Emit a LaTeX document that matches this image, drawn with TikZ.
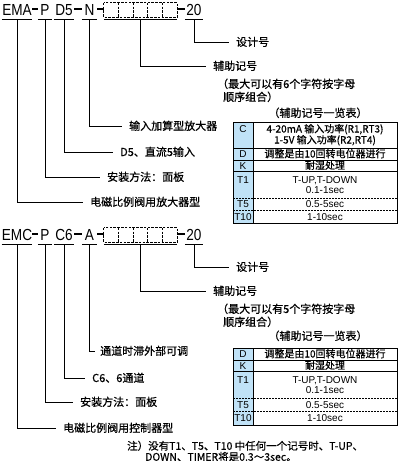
\documentclass[tikz,border=0pt]{standalone}
\usepackage{fontspec}
\setmainfont[FakeBold=0.6]{Noto Sans CJK SC}
\newfontfamily\codefont[FakeStretch=0.85]{Liberation Sans}
\newfontfamily\latinfont{Liberation Sans}
\definecolor{tabblue}{RGB}{192,226,247}

\begin{document}
\begin{tikzpicture}[x=1pt, y=-1pt,
    code/.style={font=\codefont\fontsize{16}{16}\selectfont, inner sep=0pt, text height=12pt, text depth=0pt, minimum height=20pt},
    bar/.style={line width=1.3pt},
    slot/.style={line width=0.8pt, dash pattern=on 2.6pt off 1.2pt},
    leader/.style={line width=0.8pt, shorten >=7pt},
    lbl/.style={anchor=west, inner sep=0pt, font=\fontsize{11}{13}\selectfont, text height=8pt, text depth=0pt},
    cell/.style={inner sep=0pt, font=\fontsize{10}{11}\selectfont, text height=7pt, text depth=0pt},
    tcell/.style={cell, font=\latinfont\fontsize{10}{11}\selectfont},
    note/.style={anchor=west, inner sep=0pt, font=\fontsize{10.5}{12}\selectfont, text height=7.5pt, text depth=0pt}]
    \useasboundingbox (0,0) rectangle (401,461);

    % EMA code
    \node[code, minimum width=30pt] (ema) at (17,9) {EMA};
    \node[code, minimum width=14pt] (pa) at (45,9) {P};
    \node[code, minimum width=20pt] (da) at (64,9) {D5};
    \node[code, minimum width=15pt] (na) at (89.5,9) {N};
    \node[code, minimum width=73pt] (sa) at (140.5,9) {};
    \node[code, minimum width=18pt] (ta) at (194,9) {20};
    \draw[bar] (ema) -- (pa);
    \draw[bar] (da) -- (na);
    \draw[bar] (na) -- (sa);
    \draw[bar] (sa) -- (ta);
    \foreach \n in {ema,pa,da,na,sa,ta}
        \draw[line width=0.8pt] (\n.south west) -- (\n.south east);
    \draw[slot] ([yshift=-4pt]sa.north west) rectangle ([yshift=2pt]sa.south east);
    \foreach \i in {1,...,4}
        \draw[slot] ([xshift=\i*14.6pt, yshift=-4pt]sa.north west) -- ([xshift=\i*14.6pt, yshift=2pt]sa.south west);

    % EMA labels
    \node[lbl] (la1) at (90,202) {电磁比例阀用放大器型};
    \node[lbl] (la2) at (107,177) {安装方法：面板};
    \node[lbl] (la3) at (120,152) {D5、直流5输入};
    \node[lbl] (la4) at (129,126) {输入加算型放大器};
    \node[lbl] (la5) at (213,66) {辅助记号};
    \node[lbl] (la5b) at (217,84) {（最大可以有6个字符按字母};
    \node[lbl] (la5c) at (223,97) {顺序组合）};
    \node[lbl] (la6) at (236,42) {设计号};
    \draw[leader] (ema.south) |- (la1.west);
    \draw[leader] (pa.south) |- (la2.west);
    \draw[leader] (da.south) |- (la3.west);
    \draw[leader] (na.south) |- (la4.west);
    \draw[leader] (sa.south) |- (la5.west);
    \draw[leader] (ta.south) |- (la6.west);

    % EMA table
    \node[lbl, anchor=center] (tta) at (318,113) {（辅助记号一览表）};
    \fill[tabblue] (233,122) rectangle (253,223);
    \draw[line width=0.8pt] (233,122) rectangle (397,223);
    \draw[line width=0.8pt] (253,122) -- (253,223);
    \foreach \y in {148,160,171}
        \draw[line width=0.8pt] (233,\y) -- (397,\y);
    \foreach \y in {198,210}
        \draw[line width=0.6pt, dash pattern=on 2pt off 1pt] (233,\y) -- (397,\y);
    \node[tcell] (ca) at (243,129) {C};
    \node[cell] (ca1) at (325,129) {4-20mA 输入功率(R1,RT3)};
    \node[cell] (ca2) at (325,140) {1-5V 输入功率(R2,RT4)};
    \node[tcell] (dta) at (243,154) {D};
    \node[cell] (dta1) at (325,154) {调整是由10回转电位器进行};
    \node[tcell] (ka) at (243,165.5) {K};
    \node[cell] (ka1) at (325,165.5) {耐湿处理};
    \node[tcell] (t1a) at (243,180) {T1};
    \node[tcell] (t1a1) at (325,180) {T-UP,T-DOWN};
    \node[tcell] (t1a2) at (325,190) {0.1-1sec};
    \node[tcell] (t5a) at (243,204) {T5};
    \node[tcell] (t5a1) at (325,204) {0.5-5sec};
    \node[tcell] (t10a) at (243,216.5) {T10};
    \node[tcell] (t10a1) at (325,216.5) {1-10sec};

    % EMC code
    \node[code, minimum width=30pt] (emc) at (17,234) {EMC};
    \node[code, minimum width=14pt] (pb) at (45,234) {P};
    \node[code, minimum width=20pt] (cb) at (64,234) {C6};
    \node[code, minimum width=15pt] (ab) at (89.5,234) {A};
    \node[code, minimum width=73pt] (sb) at (140.5,234) {};
    \node[code, minimum width=18pt] (tb) at (194,234) {20};
    \draw[bar, line width=2pt] (emc) -- (pb);
    \draw[bar, line width=2pt] (cb) -- (ab);
    \draw[bar, line width=2pt] (ab) -- (sb);
    \draw[bar, line width=2pt] (sb) -- (tb);
    \foreach \n in {emc,pb,cb,ab,sb,tb}
        \draw[line width=0.8pt] (\n.south west) -- (\n.south east);
    \draw[slot] ([yshift=-4pt]sb.north west) rectangle ([yshift=2pt]sb.south east);
    \foreach \i in {1,...,4}
        \draw[slot] ([xshift=\i*14.6pt, yshift=-4pt]sb.north west) -- ([xshift=\i*14.6pt, yshift=2pt]sb.south west);

    % EMC labels
    \node[lbl] (lb1) at (63,428) {电磁比例阀用控制器型};
    \node[lbl] (lb2) at (80,402) {安装方法：面板};
    \node[lbl] (lb3) at (92,378) {C6、6通道};
    \node[lbl] (lb4) at (100,351) {通道时滞外部可调};
    \node[lbl] (lb5) at (213,291) {辅助记号};
    \node[lbl] (lb5b) at (217,309) {（最大可以有5个字符按字母};
    \node[lbl] (lb5c) at (223,322) {顺序组合）};
    \node[lbl] (lb6) at (236,267) {设计号};
    \draw[leader] (emc.south) |- (lb1.west);
    \draw[leader] (pb.south) |- (lb2.west);
    \draw[leader] (cb.south) |- (lb3.west);
    \draw[leader, shorten >=5pt] (ab.south) |- (lb4.west);
    \draw[leader] (sb.south) |- (lb5.west);
    \draw[leader] (tb.south) |- (lb6.west);

    % EMC table
    \node[lbl, anchor=center] (ttb) at (318,336) {（辅助记号一览表）};
    \fill[tabblue] (233,348) rectangle (253,425);
    \draw[line width=0.8pt] (233,348) rectangle (397,425);
    \draw[line width=0.8pt] (253,348) -- (253,425);
    \foreach \y in {360,371}
        \draw[line width=0.8pt] (233,\y) -- (397,\y);
    \foreach \y in {398,411}
        \draw[line width=0.6pt, dash pattern=on 2pt off 1pt] (233,\y) -- (397,\y);
    \node[tcell] (dtb) at (243,354) {D};
    \node[cell] (dtb1) at (325,354) {调整是由10回转电位器进行};
    \node[tcell] (kb) at (243,365.5) {K};
    \node[cell] (kb1) at (325,365.5) {耐湿处理};
    \node[tcell] (t1b) at (243,380) {T1};
    \node[tcell] (t1b1) at (325,380) {T-UP,T-DOWN};
    \node[tcell] (t1b2) at (325,390) {0.1-1sec};
    \node[tcell] (t5b) at (243,404.5) {T5};
    \node[tcell] (t5b1) at (325,404.5) {0.5-5sec};
    \node[tcell] (t10b) at (243,418) {T10};
    \node[tcell] (t10b1) at (325,418) {1-10sec};

    % Note
    \node[note] (nt1) at (127,446) {注）没有T1、T5、T10 中任何一个记号时、T-UP、};
    \node[note] (nt2) at (145,457) {DOWN、TIMER将是0.3～3sec。};
\end{tikzpicture}
\end{document}
